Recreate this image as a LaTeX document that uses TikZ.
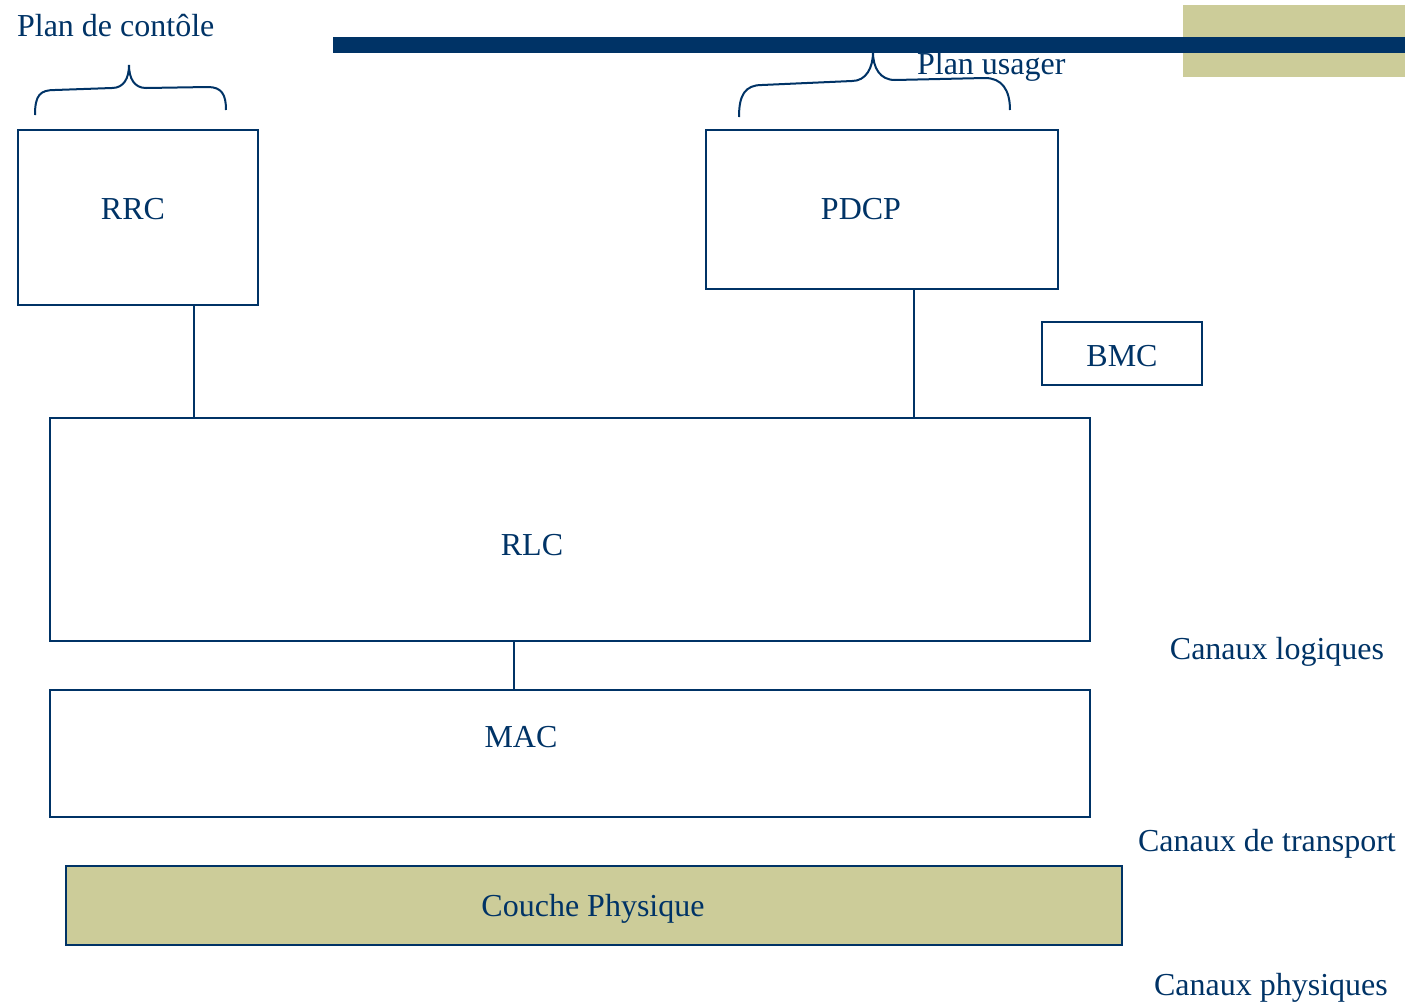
\documentclass[tikz,border=0pt]{standalone}
\usepackage{fontspec}
\setmainfont{Liberation Serif}
\usepackage{xcolor}
\usetikzlibrary{fit, positioning}
\definecolor{navy}{RGB}{0,51,102}
\definecolor{olive}{RGB}{204,204,153}

\begin{document}
\begin{tikzpicture}[x=0.5pt, y=-0.5pt, font=\fontsize{16}{19}\selectfont, text=navy,
  layer/.style={draw=navy, line width=1pt, inner sep=0pt},
  link/.style={draw=navy, line width=1pt}]
\useasboundingbox (0,0) rectangle (1405,1002);

% bandeau du haut
\fill[olive] (1183,5) rectangle (1405,77);

\node[layer, fit={(18,130) (258,305)}] (rrc) {};
\node[layer, fit={(706,130) (1058,289)}] (pdcp) {};
\node[layer, fit={(1042,322) (1202,385)}] (bmc) {};
\node[layer, fit={(50,418) (1090,641)}] (rlc) {};
\node[layer, fit={(50,690) (1090,817)}] (mac) {};
\node[layer, fill=olive, fit={(66,866) (1122,945)}] (phy) {};

\node at (133,209) (rrclabel) {RRC};
\node at (861,209) (pdcplabel) {PDCP};
\node at (1122,356) (bmclabel) {BMC};
\node at (532,545) (rlclabel) {RLC};
\node at (521,737) (maclabel) {MAC};
\node at (593,909) (phylabel) {Couche Physique};

\node[anchor=west] at (10,26) (ctrl) {Plan de contôle};
\node[anchor=west] at (910,67) (user) {Plan usager};
\node at (1277,652) (logic) {Canaux logiques};
\node at (1267,844) (transp) {Canaux de transport};
\node at (1271,988) (phys) {Canaux physiques};

\draw[link] (194,0 |- rrc.south) -- (194,0 |- rlc.north);
\draw[link] (914,0 |- pdcp.south) -- (914,0 |- rlc.north);
\draw[link] (514,0 |- rlc.south) -- (514,0 |- mac.north);

% accolades
\draw[navy, line width=1pt] (35,115) .. controls (35,95) and (40,90) .. (55,90) -- (112,88)
  .. controls (124,88) and (129,78) .. (129,65) .. controls (129,78) and (134,88) .. (146,88)
  -- (208,87) .. controls (222,87) and (226,95) .. (226,110);
\draw[navy, line width=1pt] (739,117) .. controls (739,95) and (745,85) .. (762,85) -- (852,81)
  .. controls (866,81) and (873,68) .. (873,52) .. controls (873,68) and (880,80) .. (895,80)
  -- (985,78) .. controls (1002,78) and (1010,90) .. (1010,110);

\fill[navy] (333,37) rectangle (1405,53);
\end{tikzpicture}
\end{document}
